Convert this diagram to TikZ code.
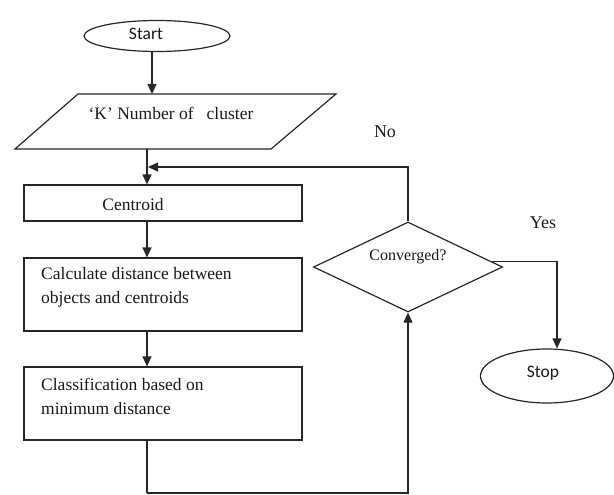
\documentclass[tikz,border=0pt]{standalone}
\usepackage{fontspec}
\setmainfont{Liberation Serif}
\newfontfamily\calib{Carlito}
\usetikzlibrary{shapes.geometric,arrows.meta,calc}
\begin{document}
\begin{tikzpicture}[x=1pt,y=-1pt,
  line/.style={draw=black!85, line width=1.2pt},
  arr/.style={line, -{Triangle[length=10pt,width=9pt]}},
  box/.style={line, rectangle, minimum width=278pt, inner sep=0pt},
  term/.style={line, ellipse, inner sep=0pt},
  txt/.style={font=\rmfamily\fontsize{17.5}{24}\selectfont, inner sep=0pt, align=left, text=black!90},
  lbl/.style={font=\rmfamily\fontsize{18}{20}\selectfont, inner sep=0pt, text=black!90}]
\useasboundingbox (0,0) rectangle (614,495);
% shapes
\node[term, minimum width=146pt, minimum height=31pt] (start) at (157,36) {};
\node[txt, font=\calib\fontsize{17.5}{20}\selectfont] (starttxt) at (146,34) {Start};
\coordinate (pbl) at (15,149);
\coordinate (ptl) at (78,94);
\coordinate (ptr) at (336,94);
\coordinate (pbr) at (271,149);
\draw[line] (pbl) -- (ptl) -- (ptr) -- (pbr) -- cycle;
\node[txt] (paratxt) at (171,113) {‘K’ Number of\ \ \ cluster};
\node[box, minimum height=36pt] (cent) at (163,203) {};
\node[txt] (centtxt) at (133,205) {Centroid};
\node[box, minimum height=73pt] (calc) at (163,294.5) {};
\node[txt, anchor=west] (calctxt) at (41,287.5) {Calculate distance between\\objects and centroids};
\node[box, minimum height=73pt] (cls) at (163,403.5) {};
\node[txt, anchor=west] (clstxt) at (41,396.5) {Classification based on\\minimum distance};
\node[line, diamond, minimum width=189pt, minimum height=90pt, inner sep=0pt] (dia) at (408,267) {};
\node[txt, font=\rmfamily\fontsize{16}{18}\selectfont] (diatxt) at (408,257) {Converged?};
\node[term, minimum width=133pt, minimum height=54pt] (stop) at (547,376) {};
\node[txt, font=\calib\fontsize{17.5}{20}\selectfont] (stoptxt) at (543,373) {Stop};
\node[lbl] (no) at (385,132) {No};
\node[lbl] (yes) at (543,223) {Yes};
% spine and helper coordinates
\coordinate (sp) at (147,0);
\coordinate (merge) at (148,167);
\coordinate (bot) at (147,493);
\coordinate (yesst) at ($(dia.north)!0.88!(dia.east)$);
\coordinate (yescol) at (557,0);
% connectors
\draw[arr] (start.south -| 152,0) -- (ptl -| 152,0);
\draw[arr] (pbl -| sp) -- (cent.north -| sp);
\draw[arr] (cent.south -| sp) -- (calc.north -| sp);
\draw[arr] (calc.south -| sp) -- (cls.north -| sp);
\draw[line] (cls.south -| sp) -- (bot);
\draw[arr] (bot) -| (dia.south);
\draw[arr] (dia.north) |- (merge);
\draw[arr] (yesst) -| (stop.north -| yescol);
\end{tikzpicture}
\end{document}
